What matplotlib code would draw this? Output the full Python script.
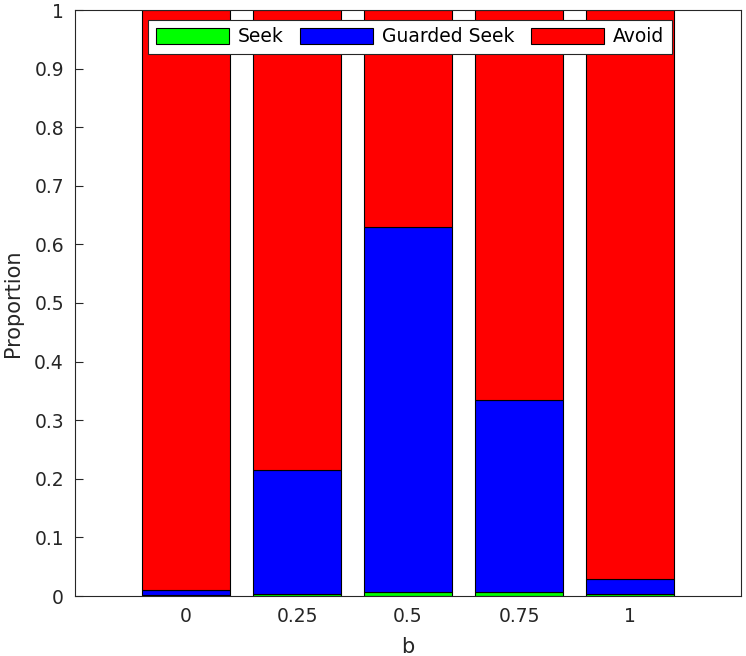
import matplotlib
matplotlib.use("Agg")
import matplotlib.pyplot as plt
import numpy as np

categories = ["0", "0.25", "0.5", "0.75", "1"]
seek = [0.001, 0.004, 0.007, 0.006, 0.004]
guarded_seek = [0.009, 0.211, 0.623, 0.328, 0.025]
avoid = [1 - s - g for s, g in zip(seek, guarded_seek)]

plt.rcParams['font.family'] = ['DejaVu Sans']
fig = plt.figure(figsize=(7.46, 6.56), dpi=100)
ax = fig.add_axes([75/746, 60/656, 666/746, 586/656])

x = np.arange(1, len(categories) + 1)
w = 0.8
ec = 'black'
lw = 0.8
ax.bar(x, seek, w, color='#00FF00', edgecolor=ec, linewidth=lw, label='Seek')
ax.bar(x, guarded_seek, w, bottom=seek, color='#0000FF', edgecolor=ec, linewidth=lw, label='Guarded Seek')
bottom2 = [s + g for s, g in zip(seek, guarded_seek)]
ax.bar(x, avoid, w, bottom=bottom2, color='#FF0000', edgecolor=ec, linewidth=lw, label='Avoid')

ax.set_xlim(0, 6)
ax.set_ylim(0, 1)
ax.set_xticks(x)
ax.set_xticklabels(categories)
yt = np.round(np.arange(0, 1.01, 0.1), 1)
ax.set_yticks(yt)
ax.set_yticklabels(['0'] + [f'{v:g}' for v in yt[1:-1]] + ['1'])
txtc = '#262626'
ax.tick_params(direction='in', length=6, colors=txtc, labelsize=13.5, top=False, right=False, pad=8)
ax.tick_params(axis='x', length=0)
for s in ax.spines.values():
    s.set_color('#262626')
    s.set_linewidth(0.8)
ax.set_xlabel('b', fontsize=15, color=txtc, labelpad=8)
ax.set_ylabel('Proportion', fontsize=15, color=txtc, labelpad=8)

leg = ax.legend(loc='upper center', ncol=3, fontsize=13.5, frameon=True, fancybox=False,
                edgecolor='#262626', framealpha=1, bbox_to_anchor=(0.503, 0.983),
                handlelength=3.9, handleheight=0.95, columnspacing=0.9, handletextpad=0.45,
                borderpad=0.4, borderaxespad=0)
leg.get_frame().set_linewidth(0.8)

fig.savefig('out.png', dpi=100)
